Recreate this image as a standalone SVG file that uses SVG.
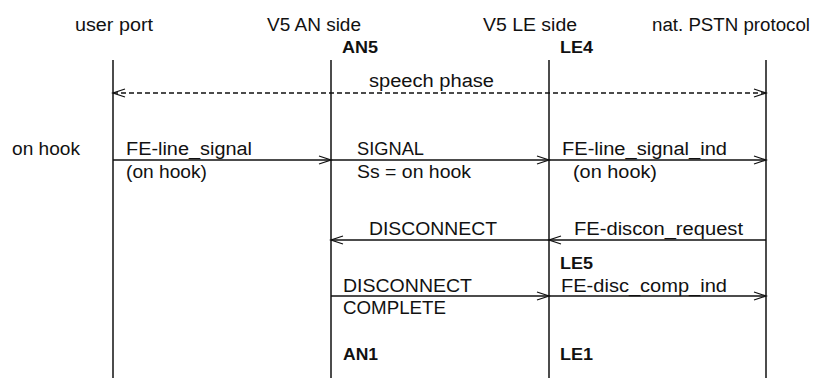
<svg xmlns="http://www.w3.org/2000/svg" width="815" height="378" viewBox="0 0 815 378">
<defs>
<style>
text{font-family:"Liberation Sans",Arial,sans-serif;font-size:18px;fill:#111}
.b{font-weight:bold;font-size:17px}
.life{stroke:#111;stroke-width:1.5;fill:none}
.msg{stroke:#111;stroke-width:1.5;fill:none;marker-end:url(#ah)}
.dash{stroke-width:1.4;stroke-dasharray:5 3;marker-start:url(#ahs)}
</style>
<marker id="ah" markerUnits="userSpaceOnUse" markerWidth="16" markerHeight="12" viewBox="-14 -6 16 12" refX="0" refY="0" orient="auto">
<path d="M-12,-4 L0,0 L-12,4" fill="none" stroke="#111" stroke-width="1.3"/>
</marker>
<marker id="ahs" markerUnits="userSpaceOnUse" markerWidth="16" markerHeight="12" viewBox="-14 -6 16 12" refX="0" refY="0" orient="auto-start-reverse">
<path d="M-12,-4 L0,0 L-12,4" fill="none" stroke="#111" stroke-width="1.3"/>
</marker>
</defs>
<rect width="815" height="378" fill="#fff"/>
<g id="userport">
<text x="75" y="31" textLength="78" lengthAdjust="spacingAndGlyphs">user port</text>
<line class="life" x1="113" y1="60" x2="113" y2="378"/>
</g>
<g id="an">
<text x="267" y="31" textLength="94" lengthAdjust="spacingAndGlyphs">V5 AN side</text>
<text class="b" x="342" y="53" textLength="36" lengthAdjust="spacingAndGlyphs">AN5</text>
<line class="life" x1="331" y1="60" x2="331" y2="378"/>
<text class="b" x="343" y="360" textLength="35" lengthAdjust="spacingAndGlyphs">AN1</text>
</g>
<g id="le">
<text x="483" y="31" textLength="94" lengthAdjust="spacingAndGlyphs">V5 LE side</text>
<text class="b" x="560" y="53" textLength="33" lengthAdjust="spacingAndGlyphs">LE4</text>
<line class="life" x1="549" y1="60" x2="549" y2="378"/>
<text class="b" x="560" y="269" textLength="33" lengthAdjust="spacingAndGlyphs">LE5</text>
<text class="b" x="560" y="360" textLength="33" lengthAdjust="spacingAndGlyphs">LE1</text>
</g>
<g id="pstn">
<text x="652" y="31" textLength="158" lengthAdjust="spacingAndGlyphs">nat. PSTN protocol</text>
<line class="life" x1="766" y1="60" x2="766" y2="378"/>
</g>
<g id="state">
<text x="12" y="155" textLength="68" lengthAdjust="spacingAndGlyphs">on hook</text>
</g>
<g id="connectors">
<line class="msg dash" x1="113" y1="93" x2="766" y2="93"/>
<line class="msg" x1="113" y1="160" x2="331" y2="160"/>
<line class="msg" x1="331" y1="160" x2="549" y2="160"/>
<line class="msg" x1="549" y1="160" x2="766" y2="160"/>
<line class="msg" x1="549" y1="240" x2="331" y2="240"/>
<line class="msg" x1="766" y1="240" x2="549" y2="240"/>
<line class="msg" x1="331" y1="296" x2="549" y2="296"/>
<line class="msg" x1="549" y1="296" x2="766" y2="296"/>
</g>
<g id="labels">
<text x="369" y="87" textLength="125" lengthAdjust="spacingAndGlyphs">speech phase</text>
<text x="126" y="155" textLength="126" lengthAdjust="spacingAndGlyphs">FE-line_signal</text>
<text x="126" y="178" textLength="81" lengthAdjust="spacingAndGlyphs">(on hook)</text>
<text x="357" y="155" textLength="67" lengthAdjust="spacingAndGlyphs">SIGNAL</text>
<text x="357" y="178" textLength="114" lengthAdjust="spacingAndGlyphs">Ss = on hook</text>
<text x="562" y="155" textLength="165" lengthAdjust="spacingAndGlyphs">FE-line_signal_ind</text>
<text x="573" y="178" textLength="84" lengthAdjust="spacingAndGlyphs">(on hook)</text>
<text x="369" y="235" textLength="128" lengthAdjust="spacingAndGlyphs">DISCONNECT</text>
<text x="574" y="235" textLength="169" lengthAdjust="spacingAndGlyphs">FE-discon_request</text>
<text x="343" y="292" textLength="129" lengthAdjust="spacingAndGlyphs">DISCONNECT</text>
<text x="343" y="314" textLength="103" lengthAdjust="spacingAndGlyphs">COMPLETE</text>
<text x="561" y="292" textLength="166" lengthAdjust="spacingAndGlyphs">FE-disc_comp_ind</text>
</g>
</svg>
